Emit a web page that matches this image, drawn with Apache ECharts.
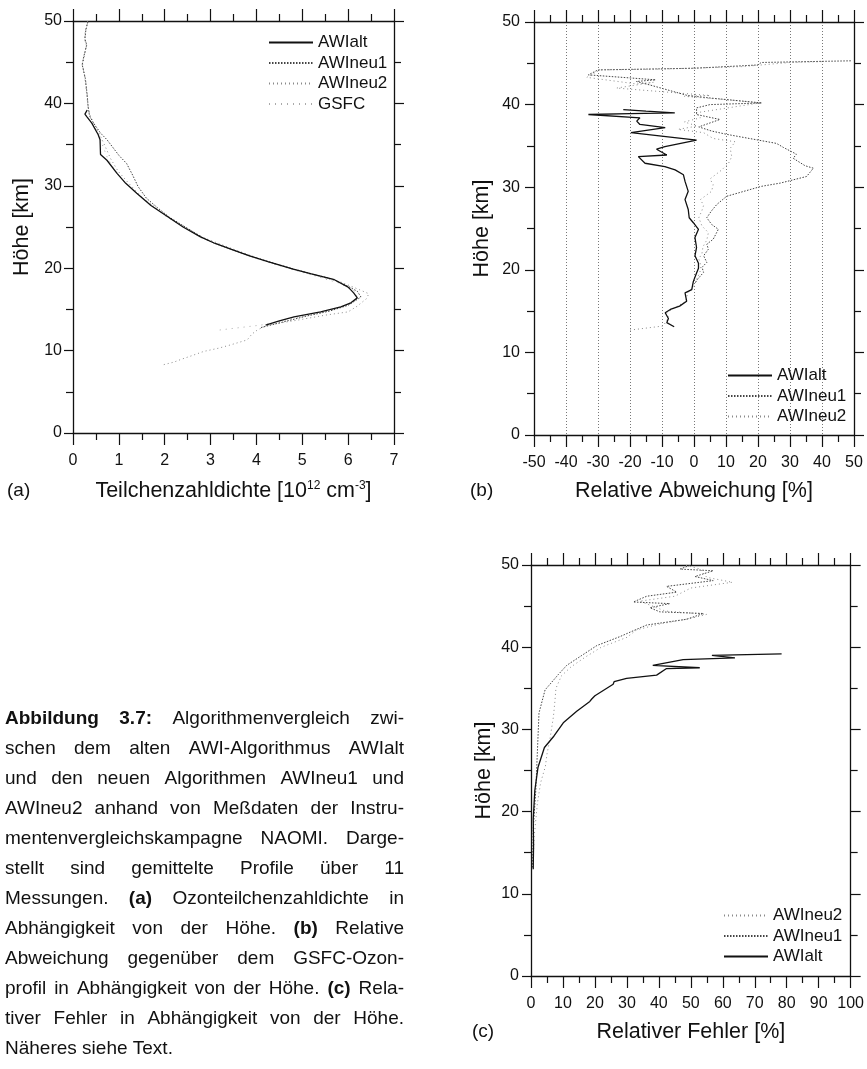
<!DOCTYPE html>
<html><head><meta charset="utf-8">
<script src="https://cdn.jsdelivr.net/npm/echarts@6/dist/echarts.min.js"></script>
<style>html,body{margin:0;padding:0;background:#fff}#chart{width:867px;height:1069px}</style>
</head><body><div id="chart"></div>
<script>
// ---------- data: [value, height km] ----------
// (a) Teilchenzahldichte [1e12 cm^-3]
const aAlt = [[4.2,13.1],[4.5,13.6],[4.82,14.1],[5.4,14.7],[5.84,15.3],[6.06,15.8],[6.2,16.4],[6.12,17.0],[6.0,17.7],[5.7,18.6],[5.2,19.3],[4.8,19.9],[4.25,20.8],[3.85,21.5],[3.5,22.2],[3.1,23.0],[2.78,23.8],[2.4,25.0],[2.05,26.3],[1.7,27.6],[1.39,29.1],[1.15,30.3],[0.96,31.5],[0.74,33.1],[0.6,33.8],[0.59,35.6],[0.55,36.2],[0.41,37.6],[0.3,38.4],[0.26,38.7],[0.31,39.2]];
const aNeu1 = [[4.1,12.8],[4.6,13.5],[5.1,14.2],[5.6,14.8],[6.0,15.5],[6.28,16.5],[6.2,17.2],[6.0,17.8],[5.65,18.7],[5.2,19.3],[4.75,20.0],[4.2,20.9],[3.8,21.6],[3.45,22.3],[3.05,23.1],[2.8,23.8],[2.45,25.0],[2.1,26.2],[1.85,27.3],[1.6,28.5],[1.42,29.9],[1.3,31.3],[1.17,32.7],[1.0,33.7],[0.74,35.6],[0.6,36.4],[0.45,37.6],[0.36,38.5],[0.33,39.6],[0.31,41.0],[0.27,43.0],[0.2,44.7],[0.24,45.8],[0.3,47.1],[0.26,47.8],[0.28,48.9],[0.33,50]];
const aNeu2 = [[1.98,8.3],[2.2,8.6],[2.34,8.9],[2.6,9.4],[2.85,9.9],[3.18,10.3],[3.44,10.7],[3.8,11.3],[3.9,12.0],[4.02,12.5],[4.24,13.1],[4.9,13.7],[5.5,14.3],[6.0,14.7],[6.2,15.4],[6.4,16.3],[6.45,16.9],[6.2,17.5],[5.85,18.3],[5.25,19.2],[4.8,19.9],[4.25,20.8],[3.55,22.2],[2.85,23.7],[2.1,26.1],[1.5,28.6],[1.2,30.4],[0.98,31.8],[0.82,33.3],[0.7,34.8],[0.6,36.0],[0.48,37.3],[0.38,38.4],[0.33,39.5],[0.3,41.0],[0.26,43.0],[0.21,44.7],[0.25,45.8],[0.29,47.1],[0.25,47.8],[0.27,48.9],[0.32,50]];
const aGsfc = [[3.2,12.5],[4.1,13.1],[4.8,13.9],[5.5,14.7],[5.95,15.5],[6.2,16.4],[6.15,17.2],[5.8,18.2],[5.2,19.2],[4.75,19.9],[4.2,20.8],[3.5,22.2],[2.8,23.7],[2.05,26.2],[1.45,28.8],[1.1,30.6],[0.9,32.0],[0.75,33.4],[0.64,35.0],[0.55,36.3],[0.45,37.4],[0.36,38.5],[0.33,39.6],[0.31,41.0],[0.27,43.0],[0.2,44.7],[0.24,45.8],[0.3,47.1],[0.26,47.8],[0.28,48.9],[0.33,50]];
// (b) Relative Abweichung [%]
const bAlt = [[-6.2,13.1],[-8.5,13.6],[-8.0,14.1],[-9.0,14.8],[-7.4,15.2],[-4.5,15.6],[-2.3,16.2],[-2.8,17.2],[-0.7,17.6],[-0.2,18.6],[0.8,19.6],[1.4,20.2],[1.4,20.8],[0.3,21.7],[0.8,22.7],[0.3,23.9],[1.4,24.9],[-0.2,25.7],[-1.5,26.3],[-1.8,27.3],[-2.8,28.5],[-1.8,29.5],[-2.8,30.7],[-3.3,31.5],[-5.9,32.1],[-9.1,32.5],[-15.3,32.9],[-17.4,33.7],[-8.5,33.9],[-11.7,34.6],[-9.1,34.9],[0.8,35.7],[-19.7,36.6],[-9.0,37.2],[-16.9,37.6],[-17.9,38.0],[-16.9,38.4],[-33.0,38.8],[-20.0,38.9],[-6.0,39.0],[-15.0,39.2],[-22.1,39.4]];
const bNeu1 = [[0.5,18.5],[1.0,18.8],[3.0,19.7],[2.5,20.3],[4.0,20.9],[3.0,21.7],[4.5,22.5],[4.0,23.1],[6.0,23.7],[7.6,24.9],[5.5,25.5],[4.0,26.3],[5.4,27.1],[7.1,27.9],[10.2,28.9],[16.5,29.6],[21.0,30.1],[27.0,30.5],[35.2,31.3],[37.3,32.3],[34.7,32.6],[31.0,33.5],[32.0,34.0],[28.0,34.8],[25.8,35.3],[25.3,35.5],[10.2,36.4],[5.5,36.8],[1.5,37.3],[8.1,38.2],[0.8,38.8],[0.8,39.6],[5.0,40.0],[21.2,40.2],[5.0,40.8],[-2.0,41.1],[-14.0,42.4],[-18.0,42.8],[-12.0,43.0],[-33.0,43.6],[-30.0,44.2],[0.0,44.4],[20.0,44.8],[21.0,45.1],[49.0,45.3]];
const bNeu2 = [[-20.0,12.7],[-9.6,13.2],[-8.0,14.2],[-8.5,14.8],[-6.0,15.4],[-2.5,16.2],[-2.0,17.2],[0.0,18.0],[1.0,19.0],[1.8,19.6],[2.2,20.5],[1.5,21.3],[2.5,22.0],[2.8,22.8],[4.0,23.6],[4.5,24.5],[2.5,25.3],[1.5,26.3],[2.5,27.2],[3.0,27.8],[2.0,28.5],[5.5,29.5],[6.0,30.3],[5.0,31.0],[8.7,32.1],[10.8,32.9],[11.8,33.7],[11.3,34.7],[12.9,35.5],[6.0,35.9],[3.0,36.6],[-5.0,37.0],[1.0,37.4],[-3.0,37.9],[2.0,38.4],[0.5,39.0],[20.6,40.2],[10.0,40.6],[-3.0,41.0],[5.0,41.1],[-24.2,42.0],[-12.7,42.7],[-18.0,42.5],[-33.5,43.3],[-29.4,44.2],[-10.0,44.3],[15.0,44.6],[30.0,45.1],[40.0,45.2]];
// (c) Relativer Fehler [%]
const cAlt = [[0.7,13.0],[0.8,16.0],[0.7,19.1],[1.2,22.6],[2.2,25.4],[4.2,27.8],[7.2,29.2],[10.1,30.8],[14.3,32.2],[18.4,33.4],[19.0,33.7],[20.0,34.1],[25.7,35.5],[26.0,35.8],[29.9,36.2],[39.3,36.6],[42.4,37.4],[52.8,37.5],[38.1,37.8],[47.6,38.5],[63.8,38.7],[56.6,39.0],[78.4,39.2]];
const cNeu1 = [[0.5,13.2],[0.7,17.9],[1.5,22.6],[2.0,27.3],[2.5,32.0],[4.4,34.8],[8.6,36.7],[11.2,37.8],[15.9,39.0],[20.6,40.2],[27.9,41.3],[32.0,42.0],[36.2,42.7],[48.7,43.4],[53.9,44.1],[40.3,44.3],[37.2,44.8],[43.4,45.3],[32.0,45.5],[36.2,46.2],[45.6,46.7],[42.4,47.4],[57.0,48.1],[51.3,48.6],[57.0,49.3],[46.6,49.5],[50.0,50.0]];
const cNeu2 = [[0.6,13.5],[1.0,17.0],[2.0,21.0],[3.0,23.5],[4.5,25.5],[5.0,27.0],[6.0,29.0],[7.0,31.5],[7.5,33.5],[7.8,35.0],[9.5,36.5],[12.5,37.6],[17.0,38.8],[22.0,40.0],[30.0,41.2],[33.0,42.1],[40.0,42.8],[50.0,43.5],[55.0,44.0],[42.0,44.4],[34.0,45.6],[45.0,46.2],[50.0,47.2],[63.0,47.9],[55.0,48.5],[53.0,49.5],[48.0,50.0]];

const heightTicks = [0, 50, 10];
const aTicks = [0, 7, 1];
const bTicks = [-50, 50, 10];
const cTicks = [0, 100, 10];

const captionLines = [
  '**Abbildung** **3.7:** Algorithmenvergleich zwi-',
  'schen dem alten AWI-Algorithmus AWIalt',
  'und den neuen Algorithmen AWIneu1 und',
  'AWIneu2 anhand von Meßdaten der Instru-',
  'mentenvergleichskampagne NAOMI. Darge-',
  'stellt sind gemittelte Profile über 11',
  'Messungen. **(a)** Ozonteilchenzahldichte in',
  'Abhängigkeit von der Höhe. **(b)** Relative',
  'Abweichung gegenüber dem GSFC-Ozon-',
  'profil in Abhängigkeit von der Höhe. **(c)** Rela-',
  'tiver Fehler in Abhängigkeit von der Höhe.',
  'Näheres siehe Text.'
];

// ---------- styling ----------
const FONT = '"Liberation Sans", Arial, Helvetica, sans-serif';
const INK = '#111';
const ST = {
  alt:  {color: '#111', width: 1.3, type: 'solid'},
  neu1: {color: '#444', width: 1, type: [1.5, 1.5]},
  neu2: {color: '#8a8a8a', width: 1, type: [1, 3]},
  gsfc: {color: '#aaa', width: 1, type: [1, 5]}
};

function xAxes(grid, t, name, gap, split) {
  const base = {
    gridIndex: grid, type: 'value', min: t[0], max: t[1], interval: t[2],
    axisLine: {show: true, onZero: false, lineStyle: {color: INK, width: 1.3}},
    axisTick: {show: true, inside: false, length: 12, lineStyle: {color: INK, width: 1.2}},
    minorTick: {show: true, splitNumber: 2, length: 7, lineStyle: {color: INK, width: 1.2}},
    splitLine: {show: false}, minorSplitLine: {show: false}
  };
  return [
    Object.assign({}, base, {
      position: 'bottom',
      axisLabel: {show: true, margin: 20, fontSize: 16, color: INK, fontFamily: FONT},
      splitLine: {show: split, lineStyle: {color: '#777', width: 1, type: [1, 2]}},
      name: name, nameLocation: 'middle', nameGap: gap,
      nameTextStyle: {fontSize: 21.5, color: INK, fontFamily: FONT,
        rich: {sup: {fontSize: 12, verticalAlign: 'top', color: INK, fontFamily: FONT}}}
    }),
    Object.assign({}, base, {position: 'top', axisLabel: {show: false}})
  ];
}
function yAxes(grid, labelMargin, nameGap) {
  const base = {
    gridIndex: grid, type: 'value', min: heightTicks[0], max: heightTicks[1], interval: heightTicks[2],
    axisLine: {show: true, onZero: false, lineStyle: {color: INK, width: 1.3}},
    minorTick: {show: true, splitNumber: 2, length: 7, lineStyle: {color: INK, width: 1.2}},
    splitLine: {show: false}, minorSplitLine: {show: false}
  };
  return [
    Object.assign({}, base, {
      position: 'left',
      axisTick: {show: true, length: 9, lineStyle: {color: INK, width: 1.2}},
      axisLabel: {show: true, margin: labelMargin, fontSize: 16, color: INK, fontFamily: FONT},
      name: 'Höhe [km]', nameLocation: 'middle', nameGap: nameGap, nameRotate: 90,
      nameTextStyle: {fontSize: 21.5, color: INK, fontFamily: FONT}
    }),
    Object.assign({}, base, {
      position: 'right',
      axisTick: {show: true, length: 10, lineStyle: {color: INK, width: 1.2}},
      axisLabel: {show: false}
    })
  ];
}
function ln(name, data, axis, st) {
  return {type: 'line', name: name, data: data, xAxisIndex: axis, yAxisIndex: axis,
    symbol: 'none', showSymbol: false, silent: true, animation: false,
    color: st.color, itemStyle: {color: st.color}, lineStyle: st};
}

const xs = [].concat(
  xAxes(0, aTicks, 'Teilchenzahldichte [10{sup|12} cm{sup|-3}]', 47, false),
  xAxes(1, bTicks, 'Relative Abweichung [%]', 45, true),
  xAxes(2, cTicks, 'Relativer Fehler [%]', 45, false));
const ys = [].concat(yAxes(0, 11, 40), yAxes(1, 14, 41), yAxes(2, 12, 36));

const legendBase = {orient: 'vertical', padding: 0, itemWidth: 44, itemHeight: 12, itemGap: 3.5,
  selectedMode: false, itemStyle: {opacity: 0},
  textStyle: {fontSize: 17, color: INK, fontFamily: FONT}};

// ---------- caption (justified, word by word) ----------
const measureCtx = document.createElement('canvas').getContext('2d');
const CAP_SIZE = 19, CAP_LEFT = 5, CAP_RIGHT = 404, CAP_TOP = 719, CAP_STEP = 30;
const capEls = [];
captionLines.forEach(function (line, li) {
  const words = line.split(' ').map(function (w) {
    const bold = w.startsWith('**');
    const t = bold ? w.replace(/\*\*/g, '') : w;
    measureCtx.font = (bold ? 'bold ' : '') + CAP_SIZE + 'px ' + FONT;
    return {t: t, bold: bold, w: measureCtx.measureText(t).width};
  });
  const last = li === captionLines.length - 1;
  const total = words.reduce(function (s, w) { return s + w.w; }, 0);
  measureCtx.font = CAP_SIZE + 'px ' + FONT;
  const gap = last ? measureCtx.measureText(' ').width : (CAP_RIGHT - CAP_LEFT - total) / (words.length - 1);
  let x = CAP_LEFT;
  words.forEach(function (w) {
    capEls.push({type: 'text', x: x, y: CAP_TOP + li * CAP_STEP, silent: true,
      style: {text: w.t, fontSize: CAP_SIZE, fontFamily: FONT, fontWeight: w.bold ? 'bold' : 'normal',
        fill: INK, align: 'left', verticalAlign: 'middle'}});
    x += w.w + gap;
  });
});
[['(a)', 7, 491], ['(b)', 470, 491], ['(c)', 472, 1032]].forEach(function (p) {
  capEls.push({type: 'text', x: p[1], y: p[2], silent: true,
    style: {text: p[0], fontSize: 19, fontFamily: FONT, fill: INK, align: 'left', verticalAlign: 'middle'}});
});

const chart = echarts.init(document.getElementById('chart'), null, {renderer: 'canvas'});
chart.setOption({
  animation: false,
  backgroundColor: '#fff',
  grid: [
    {left: 73, top: 21, width: 321, height: 412},
    {left: 534, top: 22, width: 320, height: 413},
    {left: 531, top: 565, width: 320, height: 411}
  ],
  xAxis: xs,
  yAxis: ys,
  legend: [
    Object.assign({}, legendBase, {left: 268, top: 34, data: ['AWIalt', 'AWIneu1', 'AWIneu2', 'GSFC']}),
    Object.assign({}, legendBase, {left: 727, top: 367, data: ['AWIalt', 'AWIneu1', 'AWIneu2']}),
    Object.assign({}, legendBase, {left: 723, top: 907, data: ['AWIneu2', 'AWIneu1', 'AWIalt']})
  ],
  graphic: {elements: capEls},
  series: [
    ln('GSFC', aGsfc, 0, ST.gsfc),
    ln('AWIneu2', aNeu2, 0, ST.neu2),
    ln('AWIneu1', aNeu1, 0, ST.neu1),
    ln('AWIalt', aAlt, 0, ST.alt),
    ln('AWIneu2', bNeu2, 2, ST.neu2),
    ln('AWIneu1', bNeu1, 2, ST.neu1),
    ln('AWIalt', bAlt, 2, ST.alt),
    ln('AWIneu2', cNeu2, 4, ST.neu2),
    ln('AWIneu1', cNeu1, 4, ST.neu1),
    ln('AWIalt', cAlt, 4, ST.alt)
  ]
});
</script></body></html>
